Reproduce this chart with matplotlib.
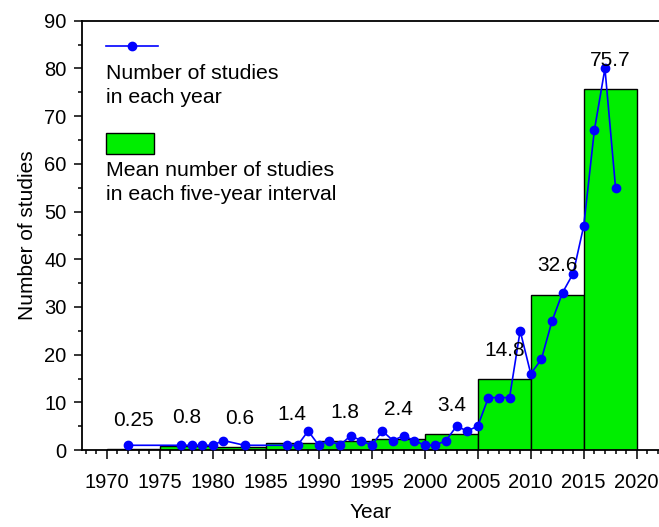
import numpy as np
import matplotlib
matplotlib.use("Agg")
import matplotlib.pyplot as plt
from matplotlib.ticker import MultipleLocator
from matplotlib.patches import Rectangle

plt.rcParams['font.family'] = ['Liberation Sans', 'DejaVu Sans']

# yearly counts
years = [1972, 1977, 1978, 1979, 1980, 1981, 1983, 1987, 1988, 1989, 1990,
         1991, 1992, 1993, 1994, 1995, 1996, 1997, 1998, 1999, 2000,
         2001, 2002, 2003, 2004, 2005, 2006, 2007, 2008, 2009, 2010,
         2011, 2012, 2013, 2014, 2015, 2016, 2017, 2018]
counts = [1, 1, 1, 1, 1, 2, 1, 1, 1, 4, 1,
          2, 1, 3, 2, 1, 4, 2, 3, 2, 1,
          1, 2, 5, 4, 5, 11, 11, 11, 25, 16,
          19, 27, 33, 37, 47, 67, 80, 55]

# five-year means
interval_start = [1970, 1975, 1980, 1985, 1990, 1995, 2000, 2005, 2010, 2015]
interval_mean = [0.25, 0.8, 0.6, 1.4, 1.8, 2.4, 3.4, 14.8, 32.6, 75.7]
mean_labels = ['0.25', '0.8', '0.6', '1.4', '1.8', '2.4', '3.4', '14.8', '32.6', '75.7']

fig = plt.figure(figsize=(6.59, 5.27), dpi=100)
ax = fig.add_axes([0.1244, 0.146, 0.8756, 0.8147])

ax.bar(interval_start, interval_mean, width=5, align='edge', color='#00ee00',
       edgecolor='black', linewidth=1, zorder=2)
for x0, v, lab in zip(interval_start, interval_mean, mean_labels):
    ax.text(x0 + 2.5, v + 6, lab, ha='center', va='center', fontsize=15, zorder=4)

ax.plot(years, counts, color='#0000ff', lw=1.2, marker='o', markersize=6,
        zorder=3, clip_on=False)

ax.set_xlim(1967.66, 2022.1)
ax.set_ylim(0, 90)
ax.xaxis.set_major_locator(MultipleLocator(5))
ax.xaxis.set_minor_locator(MultipleLocator(1))
ax.yaxis.set_major_locator(MultipleLocator(10))
ax.yaxis.set_minor_locator(MultipleLocator(5))
ax.set_xticks(np.arange(1970, 2021, 5))
ax.tick_params(axis='both', which='major', direction='out', length=6, width=1.1,
               labelsize=14.5)
ax.tick_params(axis='both', which='minor', direction='out', length=3, width=1.1)
ax.tick_params(axis='x', which='major', length=6.5, pad=10)
ax.tick_params(axis='y', which='major', pad=5)
ax.spines['right'].set_visible(False)
for s in ['left', 'bottom', 'top']:
    ax.spines[s].set_linewidth(1.3)

ax.set_xlabel('Year', fontsize=15, labelpad=8)
ax.set_ylabel('Number of studies', fontsize=15, labelpad=5)

# hand-placed legend
ax.plot([0.042, 0.131], [0.941, 0.941], transform=ax.transAxes, color='#0000ff',
        lw=1.2, clip_on=False)
ax.plot([0.087], [0.941], transform=ax.transAxes, color='#0000ff', marker='o',
        markersize=6, clip_on=False)
ax.text(0.042, 0.848, 'Number of studies\nin each year', transform=ax.transAxes,
        fontsize=15.3, va='center', ha='left', linespacing=1.33)
ax.add_patch(Rectangle((0.042, 0.689), 0.083, 0.049, transform=ax.transAxes,
                       facecolor='#00ee00', edgecolor='black', lw=1))
ax.text(0.042, 0.623, 'Mean number of studies\nin each five-year interval',
        transform=ax.transAxes, fontsize=15.3, va='center', ha='left',
        linespacing=1.33)

fig.savefig('out.png', dpi=100)
